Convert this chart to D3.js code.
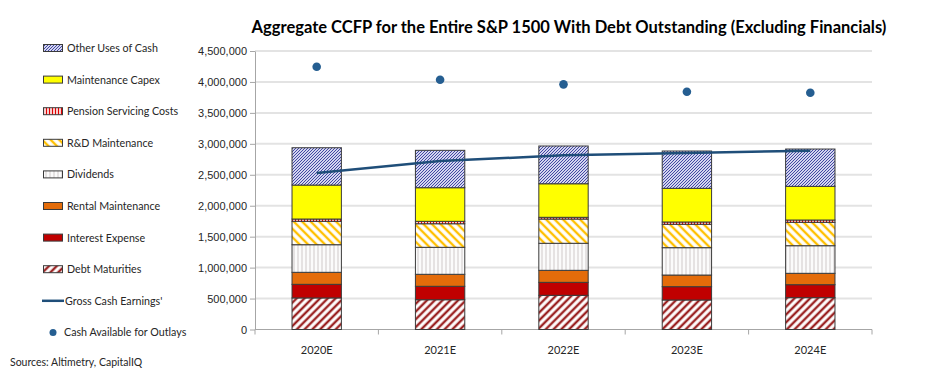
<!DOCTYPE html>
<html>
<head>
<meta charset="utf-8">
<script src="https://cdn.jsdelivr.net/npm/d3@7.9.0/dist/d3.min.js"></script>
<style>
  body { margin: 0; background: #fff; }
  svg { display: block; font-family: Lato, "Open Sans", sans-serif; }
</style>
</head>
<body>
<svg id="chart" width="936" height="372"></svg>
<script>
const years = ['2020E', '2021E', '2022E', '2023E', '2024E'];

const debtMaturities = [510000, 481000, 552000, 477000, 514000];
const interestExpense = [220000, 217000, 210000, 215000, 210000];
const rentalMaintenance = [194000, 194000, 194000, 188000, 184000];
const dividends = [446000, 436000, 437000, 442000, 446000];
const rdMaintenance = [378000, 381000, 392000, 378000, 378000];
const pensionCosts = [37000, 39000, 28000, 37000, 37000];
const maintenanceCapex = [549000, 543000, 542000, 544000, 544000];
const otherUses = [603000, 604000, 610000, 603000, 603000];

const grossCashEarnings = [2528000, 2722000, 2814000, 2851000, 2889000];
const cashAvailable = [4246000, 4036000, 3961000, 3842000, 3826000];

const yTicks = d3.range(0, 4500001, 500000);

// stack order bottom -> top
const seriesKeys = ['debt', 'interest', 'rental', 'dividends', 'rd', 'pension', 'capex', 'other'];
const seriesValues = {
    debt: debtMaturities, interest: interestExpense, rental: rentalMaintenance,
    dividends: dividends, rd: rdMaintenance, pension: pensionCosts,
    capex: maintenanceCapex, other: otherUses
};
const fills = {
    debt: 'url(#debtPat)', interest: '#c00000', rental: '#e46c0a',
    dividends: 'url(#divPat)', rd: 'url(#rdPat)', pension: 'url(#penPat)',
    capex: '#ffff00', other: 'url(#otherPat)'
};

const table = years.map((yr, i) => {
    let row = { year: yr };
    seriesKeys.forEach(k => row[k] = seriesValues[k][i]);
    return row;
});

const svg = d3.select('#chart');

// patterns
const defs = svg.append('defs');
function stripes(id, size, color, width, bg, angle) {
    let p = defs.append('pattern')
        .attr('id', id)
        .attr('patternUnits', 'userSpaceOnUse')
        .attr('width', size).attr('height', size)
        .attr('patternTransform', `rotate(${angle})`);
    p.append('rect').attr('width', size).attr('height', size).attr('fill', bg);
    p.append('line')
        .attr('x1', size / 2).attr('x2', size / 2)
        .attr('y1', 0).attr('y2', size)
        .attr('stroke', color).attr('stroke-width', width);
}
stripes('debtPat', 5.5, '#9b2323', 2.4, '#fff', 45);
stripes('rdPat', 6, '#ffc000', 2.4, '#fff', -45);
stripes('divPat', 4, '#cfcaca', 1, '#fbfbfb', 0);
stripes('penPat', 3, '#e00000', 1.4, '#fff', 0);

// fine pixel texture for "other uses"
const op = defs.append('pattern')
    .attr('id', 'otherPat')
    .attr('patternUnits', 'userSpaceOnUse')
    .attr('width', 3).attr('height', 3);
op.append('rect').attr('width', 3).attr('height', 3).attr('fill', '#d3d5ef');
[[2, 0], [1, 1], [0, 2]].forEach(([px, py]) => {
    op.append('rect').attr('x', px).attr('y', py)
        .attr('width', 1).attr('height', 1).attr('fill', '#4247a3');
});

const x = d3.scaleBand()
    .domain(years)
    .range([255, 872])
    .paddingInner(0.6)
    .paddingOuter(0.3);

const y = d3.scaleLinear()
    .domain([0, 4500000])
    .range([329.5, 51]);

// gridlines
svg.append('g')
    .selectAll('line')
    .data(yTicks.slice(1))
    .join('line')
    .attr('x1', 255).attr('x2', 872)
    .attr('y1', d => y(d)).attr('y2', d => y(d))
    .attr('stroke', '#e3e3e3').attr('stroke-width', 2);

// y axis
const yAxis = svg.append('g')
    .attr('transform', 'translate(255,0)')
    .call(d3.axisLeft(y).tickValues(yTicks).tickFormat(d3.format(',')).tickSize(5).tickSizeOuter(0));
yAxis.select('.domain').attr('stroke', '#a6a6a6');
yAxis.selectAll('.tick line').attr('stroke', '#a6a6a6');
yAxis.selectAll('text').attr('font-size', 11).attr('fill', '#262626').attr('x', -8);

// x axis
const xAxis = svg.append('g')
    .attr('transform', 'translate(0,329.5)');
xAxis.append('line')
    .attr('x1', 255).attr('x2', 872)
    .attr('stroke', '#a6a6a6');
const bounds = years.map((d, i) => x(d) - x.step() * 0.3).concat([872]);
xAxis.selectAll('.tk')
    .data(bounds)
    .join('line')
    .attr('x1', d => d).attr('x2', d => d)
    .attr('y1', 0).attr('y2', 5)
    .attr('stroke', '#a6a6a6');
xAxis.selectAll('text')
    .data(years)
    .join('text')
    .attr('x', d => x(d) + x.bandwidth() / 2)
    .attr('y', 24)
    .attr('text-anchor', 'middle')
    .attr('font-size', 11)
    .attr('fill', '#262626')
    .text(d => d);

// stacked bars
const stacked = d3.stack().keys(seriesKeys)(table);
svg.append('g')
    .selectAll('g')
    .data(stacked)
    .join('g')
    .attr('fill', d => fills[d.key])
    .selectAll('rect')
    .data(d => d)
    .join('rect')
    .attr('x', d => x(d.data.year))
    .attr('width', x.bandwidth())
    .attr('y', d => y(d[1]))
    .attr('height', d => y(d[0]) - y(d[1]))
    .attr('stroke', '#3a3a3a')
    .attr('stroke-width', 1);

// gross cash earnings line
const line = d3.line()
    .x((d, i) => x(years[i]) + x.bandwidth() / 2)
    .y(d => y(d));
svg.append('path')
    .datum(grossCashEarnings)
    .attr('d', line)
    .attr('fill', 'none')
    .attr('stroke', '#1f4e79')
    .attr('stroke-width', 2.5);

// cash available dots
svg.append('g')
    .selectAll('circle')
    .data(cashAvailable)
    .join('circle')
    .attr('cx', (d, i) => x(years[i]) + x.bandwidth() / 2)
    .attr('cy', d => y(d))
    .attr('r', 4.3)
    .attr('fill', '#255e91');

// title
svg.append('text')
    .attr('x', 569).attr('y', 33)
    .attr('text-anchor', 'middle')
    .attr('font-size', 16.5)
    .attr('font-weight', 'bold')
    .attr('fill', '#000')
    .text('Aggregate CCFP for the Entire S&P 1500 With Debt Outstanding (Excluding Financials)');

// legend
const legendItems = [
    { label: 'Other Uses of Cash', fill: fills.other },
    { label: 'Maintenance Capex', fill: fills.capex },
    { label: 'Pension Servicing Costs', fill: fills.pension },
    { label: 'R&D Maintenance', fill: fills.rd },
    { label: 'Dividends', fill: fills.dividends },
    { label: 'Rental Maintenance', fill: fills.rental },
    { label: 'Interest Expense', fill: fills.interest },
    { label: 'Debt Maturities', fill: fills.debt }
];
const legend = svg.append('g').attr('font-size', 10.7).attr('fill', '#262626');
legendItems.forEach((d, i) => {
    let cy = 48 + i * 31.6;
    legend.append('rect')
        .attr('x', 43.5).attr('y', cy - 3.5)
        .attr('width', 19).attr('height', 7)
        .attr('fill', d.fill)
        .attr('stroke', '#3a3a3a');
    legend.append('text')
        .attr('x', 67).attr('y', cy + 4)
        .text(d.label);
});
let lineY = 48 + 8 * 31.6;
legend.append('line')
    .attr('x1', 42).attr('x2', 64)
    .attr('y1', lineY).attr('y2', lineY)
    .attr('stroke', '#1f4e79').attr('stroke-width', 2.5);
legend.append('text').attr('x', 65).attr('y', lineY + 4).text("Gross Cash Earnings'");
let dotY = 48 + 9 * 31.6;
legend.append('circle')
    .attr('cx', 53).attr('cy', dotY).attr('r', 3.5)
    .attr('fill', '#255e91');
legend.append('text').attr('x', 64).attr('y', dotY + 4).text('Cash Available for Outlays');

svg.append('text')
    .attr('x', 10).attr('y', 366)
    .attr('font-size', 10.5)
    .attr('fill', '#262626')
    .text('Sources: Altimetry, CapitalIQ');
</script>
</body>
</html>
